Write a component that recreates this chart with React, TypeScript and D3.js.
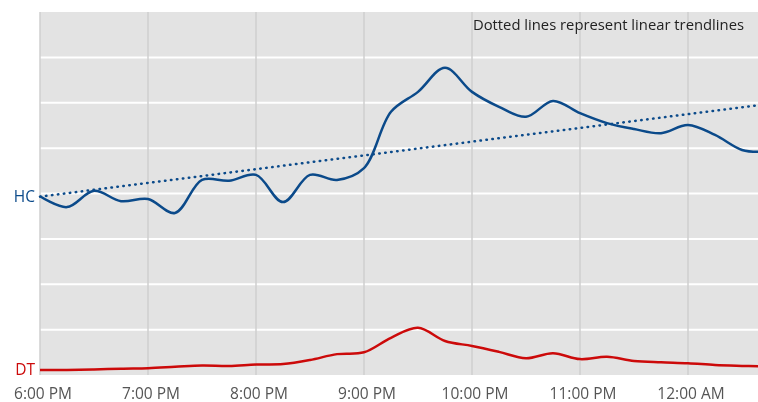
import { useEffect, useRef } from "react";
import * as d3 from "d3";

// 15-minute samples, 6:00 PM to 12:40 AM
const times = [
  "18:00", "18:15", "18:30", "18:45", "19:00", "19:15", "19:30", "19:45",
  "20:00", "20:15", "20:30", "20:45", "21:00", "21:15", "21:30", "21:45",
  "22:00", "22:15", "22:30", "22:45", "23:00", "23:15", "23:30", "23:45",
  "00:00", "00:15", "00:30", "00:40",
];

const hc = [
  3.94, 3.7, 4.06, 3.83, 3.88, 3.57, 4.3, 4.28, 4.41, 3.81, 4.41, 4.3, 4.56, 5.8,
  6.24, 6.77, 6.24, 5.91, 5.69, 6.04, 5.77, 5.55, 5.42, 5.33, 5.51, 5.29, 4.96, 4.92,
];

const dt = [
  0.11, 0.11, 0.12, 0.14, 0.15, 0.18, 0.21, 0.2, 0.23, 0.24, 0.33, 0.46, 0.5, 0.82,
  1.04, 0.75, 0.64, 0.51, 0.37, 0.48, 0.35, 0.4, 0.31, 0.28, 0.26, 0.22, 0.2, 0.19,
];

// linear trendline end values for HC
const hcTrend = [3.93, 5.95];

const yGrid = [1, 2, 3, 4, 5, 6, 7];

const HC_COLOR = "#0b4a8a";
const DT_COLOR = "#cc0a0a";

const toDate = (t: string) => {
  const [h, m] = t.split(":").map(Number);
  return new Date(2024, 0, h < 12 ? 2 : 1, h, m);
};

const App = () => {
  const ref = useRef<SVGSVGElement | null>(null);

  useEffect(() => {
    if (!ref.current) return;
    const svg = d3.select(ref.current);
    svg.selectAll("*").remove();

    const width = 758;
    const height = 402;
    const margin = { top: 12, right: 0, bottom: 27, left: 40 };
    const font = "'Open Sans', 'Noto Sans', sans-serif";

    const dates = times.map(toDate);
    const x = d3
      .scaleTime()
      .domain([dates[0], dates[dates.length - 1]])
      .range([margin.left, width + 2]);
    const y = d3
      .scaleLinear()
      .domain([0, 8])
      .range([height - margin.bottom, margin.top]);

    svg
      .append("rect")
      .attr("x", margin.left)
      .attr("y", margin.top)
      .attr("width", width - margin.left)
      .attr("height", height - margin.bottom - margin.top)
      .attr("fill", "#e3e3e3");

    svg
      .append("g")
      .selectAll("line")
      .data(yGrid)
      .join("line")
      .attr("x1", margin.left)
      .attr("x2", width)
      .attr("y1", (d) => y(d))
      .attr("y2", (d) => y(d))
      .attr("stroke", "#fff")
      .attr("stroke-width", 2);

    const hours = x.ticks(d3.timeHour.every(1)!);
    svg
      .append("g")
      .selectAll("line")
      .data(hours)
      .join("line")
      .attr("x1", (d) => x(d))
      .attr("x2", (d) => x(d))
      .attr("y1", margin.top)
      .attr("y2", height - margin.bottom)
      .attr("stroke", "#cfcfcf")
      .attr("stroke-width", 1.5);

    const fmt = d3.timeFormat("%-I:%M %p");
    svg
      .append("g")
      .selectAll("text")
      .data(hours)
      .join("text")
      .attr("x", (d) => x(d) + 3)
      .attr("y", 398.5)
      .attr("text-anchor", "middle")
      .attr("font-family", font)
      .attr("font-size", 15.5)
      .attr("fill", "#555")
      .text((d) => fmt(d));

    const line = d3
      .line<number>()
      .x((_, i) => x(dates[i]))
      .y((d) => y(d))
      .curve(d3.curveCatmullRom.alpha(0.5));

    svg
      .append("line")
      .attr("x1", x(dates[0]))
      .attr("x2", x(dates[dates.length - 1]))
      .attr("y1", y(hcTrend[0]))
      .attr("y2", y(hcTrend[1]))
      .attr("stroke", HC_COLOR)
      .attr("stroke-width", 2.5)
      .attr("stroke-linecap", "round")
      .attr("stroke-dasharray", "0.5 5.5");

    svg
      .append("path")
      .datum(dt)
      .attr("fill", "none")
      .attr("stroke", DT_COLOR)
      .attr("stroke-width", 2.5)
      .attr("d", line);

    svg
      .append("path")
      .datum(hc)
      .attr("fill", "none")
      .attr("stroke", HC_COLOR)
      .attr("stroke-width", 2.5)
      .attr("d", line);

    const labels = [
      { name: "HC", v: hc[0], color: HC_COLOR },
      { name: "DT", v: dt[0], color: DT_COLOR },
    ];
    svg
      .append("g")
      .selectAll("text")
      .data(labels)
      .join("text")
      .attr("x", 35)
      .attr("y", (d) => y(d.v))
      .attr("dy", "0.35em")
      .attr("text-anchor", "end")
      .attr("font-family", font)
      .attr("font-size", 15.5)
      .attr("fill", (d) => d.color)
      .text((d) => d.name);

    svg
      .append("text")
      .attr("x", 744)
      .attr("y", 30)
      .attr("text-anchor", "end")
      .attr("font-family", font)
      .attr("font-size", 14.8)
      .attr("fill", "#222")
      .text("Dotted lines represent linear trendlines");
  }, []);

  return (
    <div style={{ position: "fixed", left: 0, top: 0 }}>
      <svg ref={ref} width={758} height={402} style={{ display: "block" }} />
    </div>
  );
};

export default App;
